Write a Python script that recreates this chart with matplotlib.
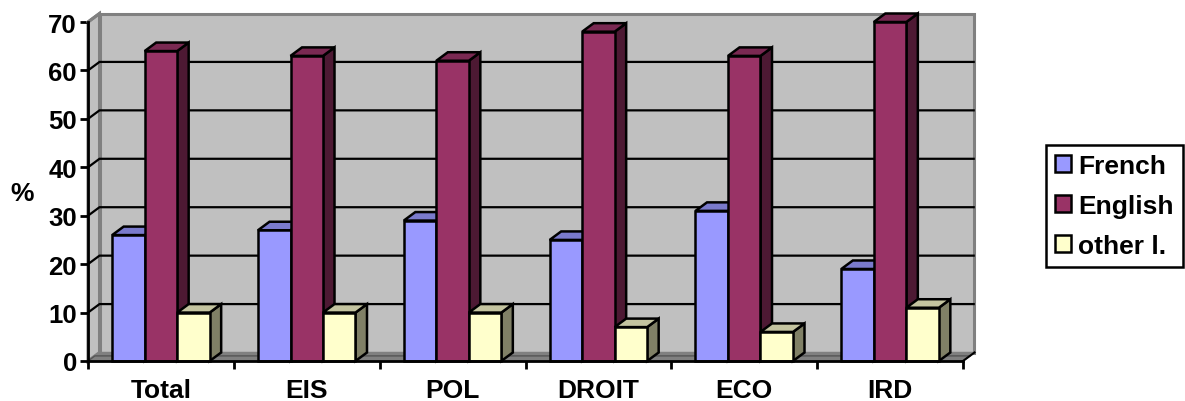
import matplotlib
matplotlib.use("Agg")
import matplotlib.pyplot as plt
from matplotlib.patches import Patch, Polygon

plt.rcParams["font.family"] = ["Liberation Sans", "DejaVu Sans"]

# Survey data: share of each language by group, in percent
categories = ["Total", "EIS", "POL", "DROIT", "ECO", "IRD"]
series_names = ["French", "English", "other l."]
french = [26, 27, 29, 25, 31, 19]
english = [64, 63, 62, 68, 63, 70]
other = [10, 10, 10, 7, 6, 11]
y_ticks = [0, 10, 20, 30, 40, 50, 60, 70]

front_colors = ["#9999FF", "#993366", "#FFFFCC"]
top_colors = ["#7A7ACC", "#7A2952", "#C4C4A0"]
side_colors = ["#4D4D80", "#4D1933", "#808066"]

W, H = 1185, 402
fig = plt.figure(figsize=(W / 100, H / 100), dpi=100, facecolor="white")
left, right, bottom, top = 88, 963, 362, 23
ax = fig.add_axes([left / W, 1 - bottom / H, (right - left) / W, (bottom - top) / H])
ax.set_xlim(0, len(categories))
ax.set_ylim(0, 70)
ax.patch.set_visible(False)
for s in ["top", "right"]:
    ax.spines[s].set_visible(False)
for s in ["left", "bottom"]:
    ax.spines[s].set_linewidth(2)
    ax.spines[s].set_zorder(6)

# Oblique depth expressed in data units
dx = 11.5 / ((right - left) / len(categories))
dy = 8.5 / ((bottom - top) / 70)
x_max, y_max = len(categories), 70


def poly(points, face, edge="black", lw=1.8, z=3):
    ax.add_patch(Polygon(points, closed=True, facecolor=face, edgecolor=edge,
                         linewidth=lw, clip_on=False, zorder=z, joinstyle="miter"))


# Walls and floor
poly([(dx, dy), (x_max + dx, dy), (x_max + dx, y_max + dy), (dx, y_max + dy)],
     "#C0C0C0", "#808080", 2.2, 1)
poly([(0, 0), (dx, dy), (dx, y_max + dy), (0, y_max)], "#C0C0C0", "#808080", 2.2, 1)
poly([(0, 0), (x_max, 0), (x_max + dx, dy), (dx, dy)], "#808080", "#808080", 1, 1)
ax.plot([0, dx * 0.6, x_max + dx * 0.6], [0, dy * 0.6, dy * 0.6], color="#555555",
        lw=1, clip_on=False, zorder=1.5)
ax.plot([x_max, x_max + dx], [0, dy], color="black", lw=1.5, clip_on=False, zorder=2)
ax.plot([0, dx], [y_max, y_max + dy], color="#808080", lw=2.2, clip_on=False, zorder=2)

# Gridlines bent along the side wall; the top of the wall carries no gridline
for t in y_ticks[1:-1]:
    ax.plot([0, dx, x_max + dx * 0.93], [t, t + dy, t + dy], color="black", lw=1.6,
            clip_on=False, zorder=2, solid_joinstyle="miter")

# Bars: three per group, painted left to right so nearer faces overlap
bar_w = 32.5 / ((right - left) / len(categories))
gap = (1 - 3 * bar_w) / 2
values = [french, english, other]
for i in range(len(categories)):
    for j, vals in enumerate(values):
        x0 = i + gap + j * bar_w
        x1 = x0 + bar_w
        v = vals[i]
        poly([(x1, 0), (x1 + dx, dy), (x1 + dx, v + dy), (x1, v)], side_colors[j])
        poly([(x0, v), (x1, v), (x1 + dx, v + dy), (x0 + dx, v + dy)], top_colors[j])
        poly([(x0, 0), (x1, 0), (x1, v), (x0, v)], front_colors[j])

# Axes ticks and labels
ax.set_yticks(y_ticks)
ax.set_xticks(range(len(categories) + 1))
ax.set_xticks([i + 0.5 for i in range(len(categories))], minor=True)
ax.set_xticklabels([""] * (len(categories) + 1))
ax.set_xticklabels(categories, minor=True, fontsize=19, fontweight="bold")
ax.tick_params(axis="x", which="major", length=6, width=2)
ax.tick_params(axis="x", which="minor", length=0, pad=12.5)
ax.tick_params(axis="y", length=6, width=2, pad=2, labelsize=18.5)
for lab in ax.get_yticklabels():
    lab.set_fontweight("bold")
fig.text(22 / W, 1 - 194 / H, "%", fontsize=19, fontweight="bold", ha="center", va="center")

# Legend
handles = [Patch(facecolor=c, edgecolor="black", linewidth=1.8) for c in front_colors]
leg = fig.legend(handles, series_names, loc="upper left",
                 bbox_to_anchor=(1046 / W, 1 - 146 / H), bbox_transform=fig.transFigure,
                 prop={"weight": "bold", "size": 19},
                 frameon=True, fancybox=False, edgecolor="black", facecolor="white",
                 framealpha=1, borderaxespad=0, borderpad=0.34, labelspacing=0.6,
                 handlelength=0.62, handleheight=0.62, handletextpad=0.27)
leg.get_frame().set_linewidth(1.8)

fig.savefig("out.png", dpi=100)
